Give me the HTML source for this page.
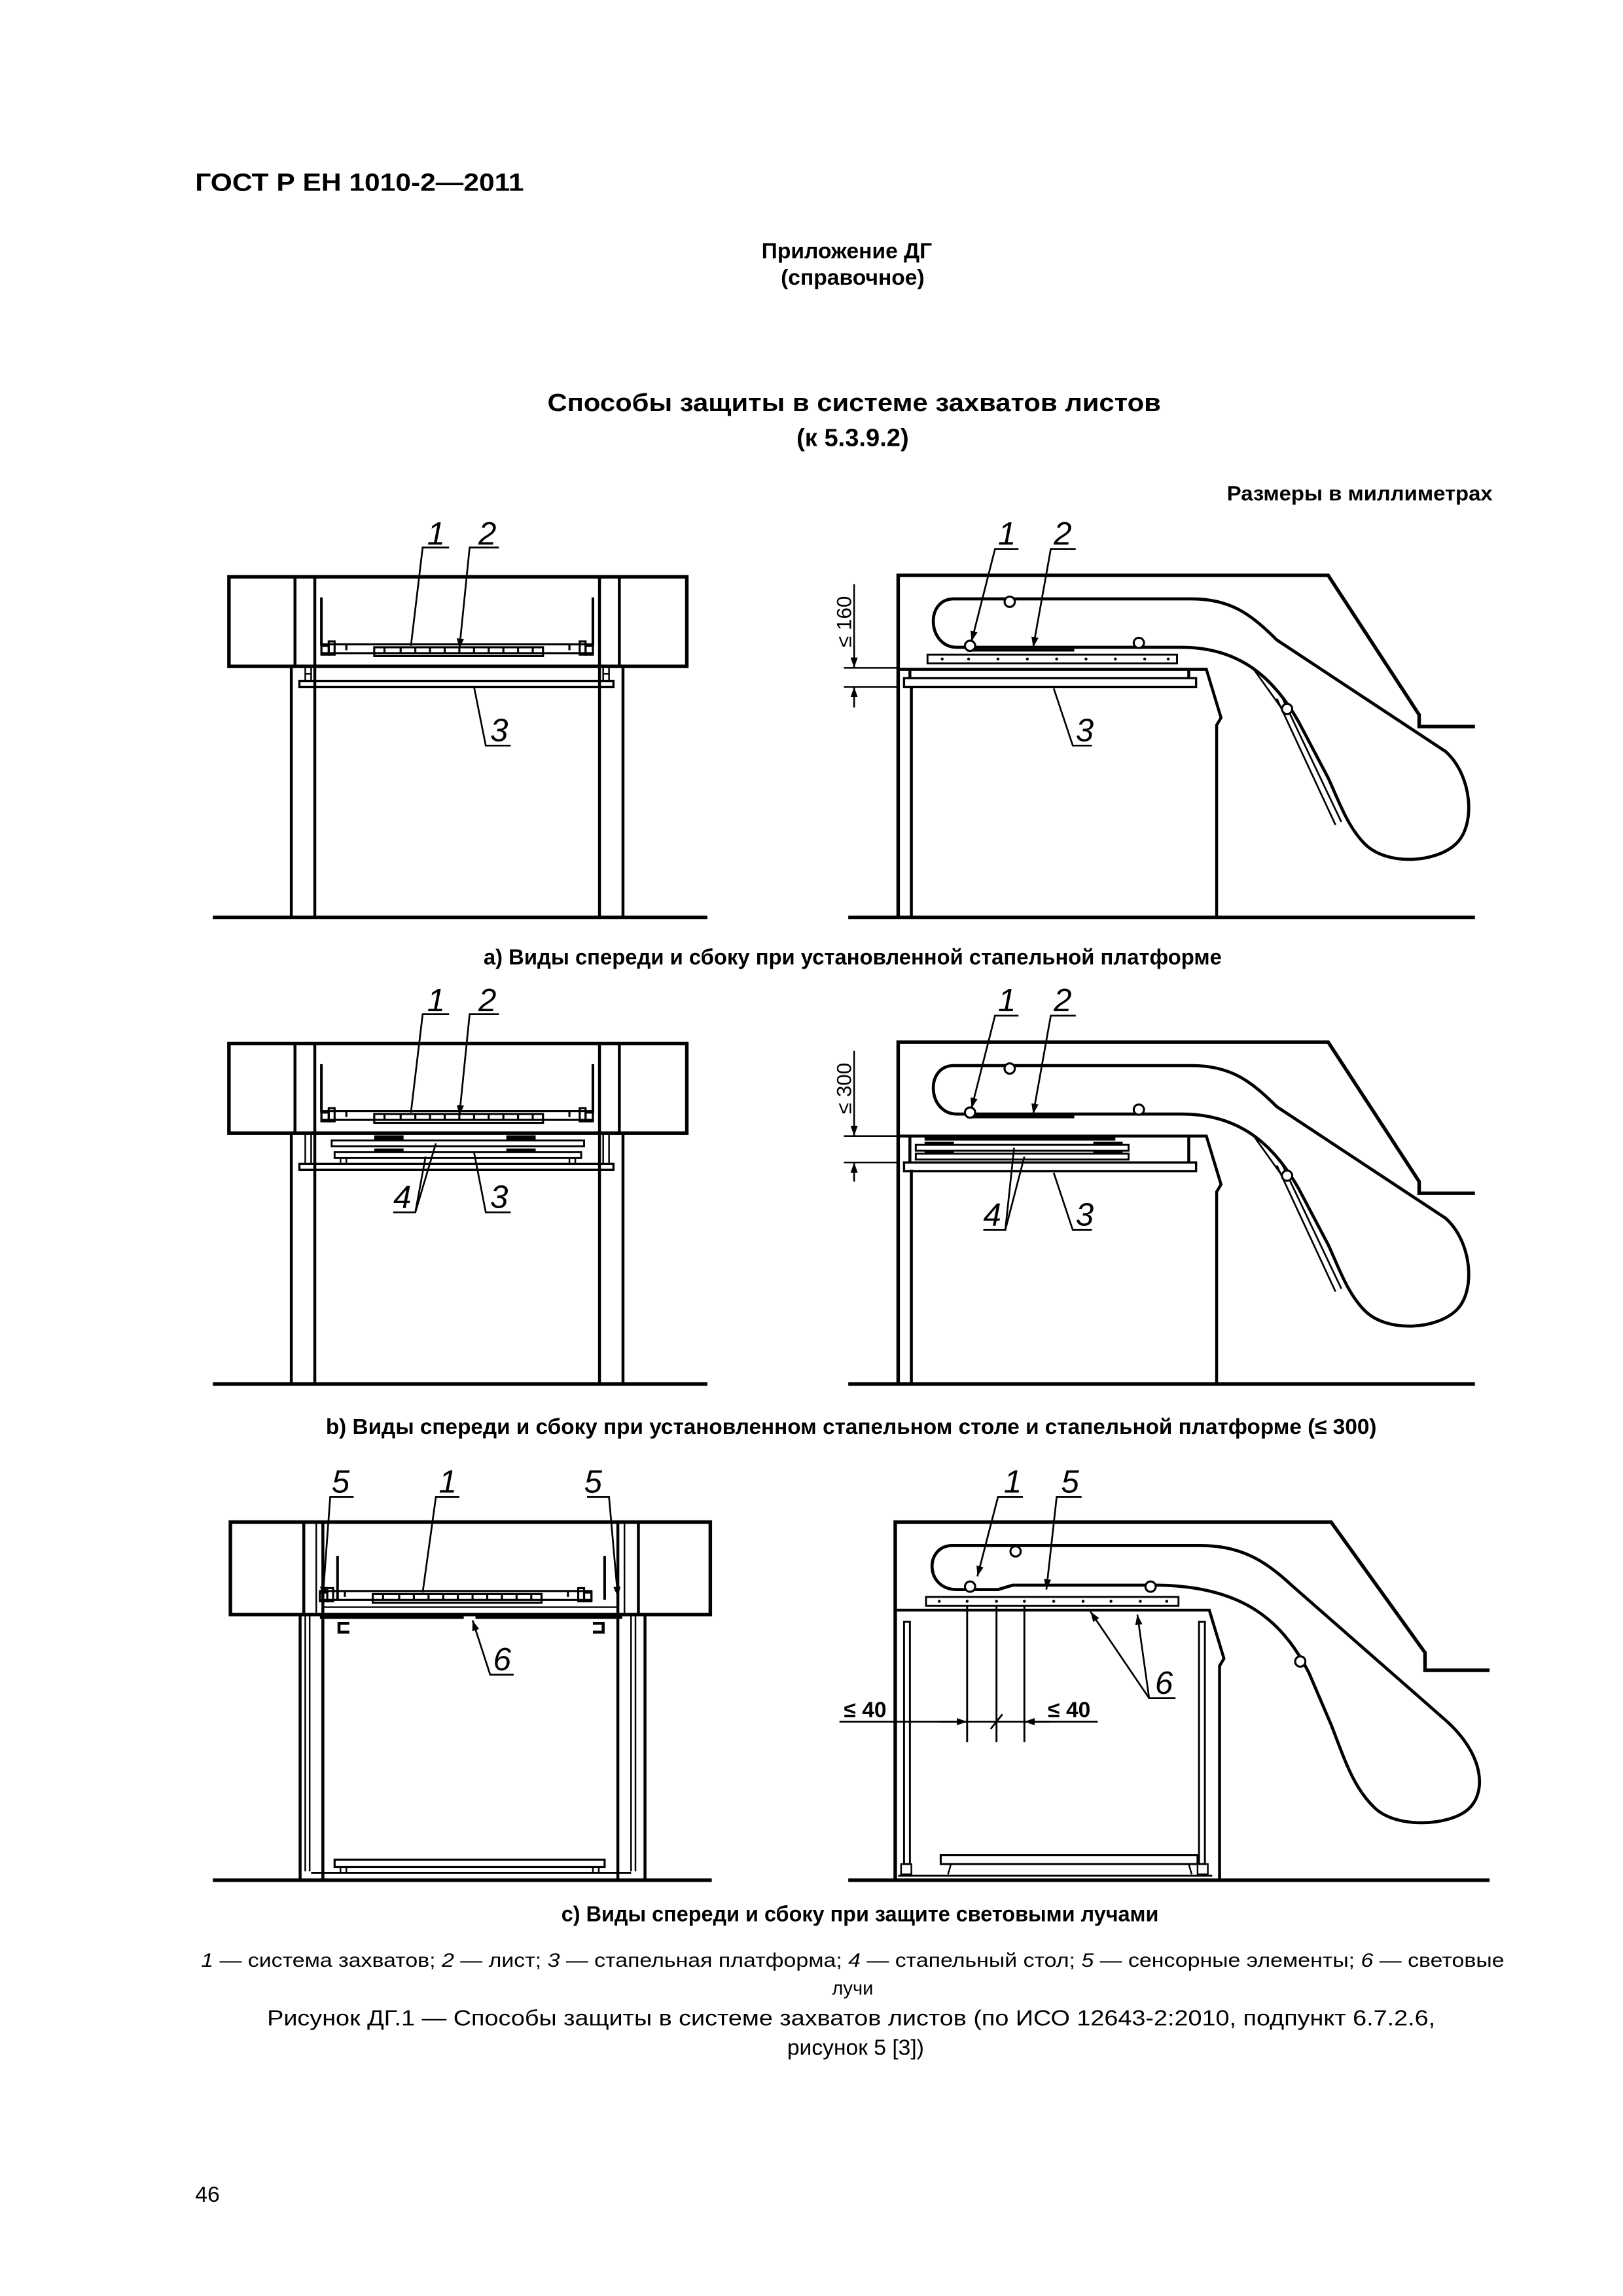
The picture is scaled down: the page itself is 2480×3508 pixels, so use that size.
<!DOCTYPE html>
<html><head><meta charset="utf-8"><style>
html,body{margin:0;padding:0;background:#fff}
svg{display:block}
text{font-family:"Liberation Sans",Arial,sans-serif;fill:#000}
</style></head><body>
<svg xmlns="http://www.w3.org/2000/svg" width="2480" height="3508" viewBox="0 0 1105.9 1564.3">
<defs>
<marker id="ar" viewBox="0 0 10 10" refX="10" refY="5" markerWidth="7" markerHeight="7" markerUnits="userSpaceOnUse" orient="auto"><path d="M0,1.5 L10,5 L0,8.5 Z" fill="#000"/></marker>

<g id="grip" fill="none" stroke="#000" stroke-width="1.4">
<rect x="219" y="439" width="185" height="6"/>
<rect x="255" y="441" width="115" height="6"/>
<rect x="219" y="440" width="5" height="6"/><rect x="399" y="440" width="5" height="6"/>
<rect x="224" y="437" width="4" height="9"/><rect x="395" y="437" width="4" height="9"/>
<path d="M236 439v4M262 441v4M273 441v4M283 441v4M293 441v4M303 441v4M313 441v4M323 441v4M333 441v4M343 441v4M353 441v4M363 441v4M388 439v4"/>
</g>

<g id="side" fill="none" stroke="#000">
<path d="M612 625 V392 H905 L967 487 V495 H1005" stroke-width="2.4"/>
<path d="M650 408 H812 C838 408 852 418 870 436 L985 512 C1003 528 1006 562 992 575 C978 588 945 590 930 575 C918 563 912 545 905 530 L885 492 C868 462 845 441 805 441 H652 C632 441 630 408 650 408 Z" stroke-width="2.1"/>
</g>
</defs>

<text x="133" y="130" font-size="17" font-weight="bold" textLength="224" lengthAdjust="spacingAndGlyphs">ГОСТ Р ЕН 1010-2—2011</text>
<text x="577" y="176" font-size="15" font-weight="bold" text-anchor="middle">Приложение ДГ</text>
<text x="581" y="194" font-size="15" font-weight="bold" text-anchor="middle">(справочное)</text>
<text x="582" y="280" font-size="17" font-weight="bold" text-anchor="middle" textLength="418" lengthAdjust="spacingAndGlyphs">Способы защиты в системе захватов листов</text>
<text x="581" y="304" font-size="17" font-weight="bold" text-anchor="middle">(к 5.3.9.2)</text>
<text x="1017" y="341" font-size="14" font-weight="bold" text-anchor="end" textLength="181" lengthAdjust="spacingAndGlyphs">Размеры в миллиметрах</text>

<!-- ROW A LEFT -->
<g fill="none" stroke="#000">
<rect x="156" y="393" width="312" height="61" stroke-width="2.4"/>
<path d="M201 393V454M214.5 393V625M408.5 393V625M422 393V454M198.5 454V625M424.5 454V625" stroke-width="2"/>
<path d="M145 625H482" stroke-width="2.4"/>
<path d="M219 407V440M404 407V440" stroke-width="1.8"/>
<rect x="204" y="464" width="214" height="4" stroke-width="1.5"/>
<path d="M208 454V464M212 454V464M411 454V464M415 454V464M208 459H212M411 459H415" stroke-width="1.1"/>
</g>
<use href="#grip"/>
<g fill="none" stroke="#000" stroke-width="1.2">
<path d="M306 373H288L280 440"/>
<path d="M340 373H320L313 442" marker-end="url(#ar)"/>
<path d="M348 508H331L323 468"/>
</g>
<g font-size="22" font-style="italic">
<text x="291" y="371">1</text><text x="326" y="371">2</text><text x="334" y="505">3</text>
</g>

<!-- ROW A RIGHT -->
<use href="#side"/>
<g fill="none" stroke="#000">
<path d="M578 625H1005" stroke-width="2.4"/>
<path d="M621 468V625" stroke-width="2"/>
<path d="M612 456H822L832 489L829 494V625" stroke-width="2"/>
<rect x="616" y="462" width="199" height="6" stroke-width="1.5"/>
<path d="M620 456V462M810 456V462" stroke-width="2"/>
<rect x="632" y="446" width="170" height="6" stroke-width="1.3"/>
<path d="M659 443H732" stroke-width="1.8"/>
<path d="M855 457L875 485M870 476L910 562M874 476L914 560" stroke-width="1.2"/>
<circle cx="661" cy="440" r="3.5" stroke-width="1.4" fill="#fff"/>
<circle cx="776" cy="438" r="3.5" stroke-width="1.4" fill="#fff"/>
<circle cx="688" cy="410" r="3.5" stroke-width="1.4" fill="#fff"/>
<circle cx="877" cy="483" r="3.5" stroke-width="1.4" fill="#fff"/>
<path d="M582 398V455M582 468V482M575 455H612M575 468H612" stroke-width="1.1"/>
</g>
<path d="M582 440V455" stroke="#000" stroke-width="1.1" marker-end="url(#ar)"/>
<path d="M582 482V468" stroke="#000" stroke-width="1.1" marker-end="url(#ar)"/>
<g fill="#000"><circle cx="642" cy="449" r="1"/><circle cx="660" cy="449" r="1"/><circle cx="680" cy="449" r="1"/><circle cx="700" cy="449" r="1"/><circle cx="720" cy="449" r="1"/><circle cx="740" cy="449" r="1"/><circle cx="760" cy="449" r="1"/><circle cx="780" cy="449" r="1"/><circle cx="796" cy="449" r="1"/></g>
<text transform="translate(580,441) rotate(-90)" font-size="14">≤ 160</text>
<g fill="none" stroke="#000" stroke-width="1.2">
<path d="M694 374H678L662 437" marker-end="url(#ar)"/>
<path d="M733 374H716L704 441" marker-end="url(#ar)"/>
<path d="M744 508H731L718 469"/>
</g>
<g font-size="22" font-style="italic">
<text x="680" y="371">1</text><text x="718" y="371">2</text><text x="733" y="505">3</text>
</g>

<text x="581" y="657" font-size="15" font-weight="bold" text-anchor="middle" textLength="503" lengthAdjust="spacingAndGlyphs">а) Виды спереди и сбоку при установленной стапельной платформе</text>

<!-- ROW B LEFT -->
<g transform="translate(0,318)">
<g fill="none" stroke="#000">
<rect x="156" y="393" width="312" height="61" stroke-width="2.4"/>
<path d="M201 393V454M214.5 393V625M408.5 393V625M422 393V454M198.5 454V625M424.5 454V625" stroke-width="2"/>
<path d="M145 625H482" stroke-width="2.4"/>
<path d="M219 407V440M404 407V440" stroke-width="1.8"/>
<rect x="204" y="475" width="214" height="4" stroke-width="1.5"/>
<path d="M208 454V475M212 454V475M411 454V475M415 454V475" stroke-width="1.1"/>
<rect x="226" y="459" width="172" height="4" stroke-width="1.3"/>
<rect x="228" y="467" width="168" height="4" stroke-width="1.3"/>
<path d="M232 471V475M236 471V475M388 471V475M392 471V475" stroke-width="1.1"/>
</g>
<path d="M255 457H275M345 457H365M255 466H275M345 466H365" stroke="#000" stroke-width="3"/>
<use href="#grip"/>
<g fill="none" stroke="#000" stroke-width="1.2">
<path d="M306 373H288L280 440"/>
<path d="M340 373H320L313 442" marker-end="url(#ar)"/>
<path d="M268 508H283L290 470M283 508L297 461"/>
<path d="M348 508H331L323 467"/>
</g>
<g font-size="22" font-style="italic">
<text x="291" y="371">1</text><text x="326" y="371">2</text><text x="268" y="505">4</text><text x="334" y="505">3</text>
</g>
</g>

<!-- ROW B RIGHT -->
<g transform="translate(0,318)">
<use href="#side"/>
<g fill="none" stroke="#000">
<path d="M578 625H1005" stroke-width="2.4"/>
<path d="M621 479V625" stroke-width="2"/>
<path d="M612 456H822L832 489L829 494V625" stroke-width="2"/>
<rect x="616" y="474" width="199" height="6" stroke-width="1.5"/>
<path d="M620 456V474M810 456V474" stroke-width="2"/>
<rect x="624" y="462" width="145" height="4" stroke-width="1.3"/>
<rect x="624" y="468" width="145" height="4" stroke-width="1.3"/>
<path d="M659 443H732" stroke-width="1.8"/>
<path d="M855 457L875 485M870 476L910 562M874 476L914 560" stroke-width="1.2"/>
<circle cx="661" cy="440" r="3.5" stroke-width="1.4" fill="#fff"/>
<circle cx="776" cy="438" r="3.5" stroke-width="1.4" fill="#fff"/>
<circle cx="688" cy="410" r="3.5" stroke-width="1.4" fill="#fff"/>
<circle cx="877" cy="483" r="3.5" stroke-width="1.4" fill="#fff"/>
<path d="M582 398V456M582 474V487M575 456H612M575 474H612" stroke-width="1.1"/>
</g>
<path d="M630 458H760M630 461H650M745 461H765M630 467H650M745 467H765" stroke="#000" stroke-width="2.2"/>
<path d="M582 441V456" stroke="#000" stroke-width="1.1" marker-end="url(#ar)"/>
<path d="M582 487V474" stroke="#000" stroke-width="1.1" marker-end="url(#ar)"/>
<text transform="translate(580,441) rotate(-90)" font-size="14">≤ 300</text>
<g fill="none" stroke="#000" stroke-width="1.2">
<path d="M694 374H678L662 437" marker-end="url(#ar)"/>
<path d="M733 374H716L704 441" marker-end="url(#ar)"/>
<path d="M670 520H685L691 464M685 520L698 470"/>
<path d="M744 520H731L718 481"/>
</g>
<g font-size="22" font-style="italic">
<text x="680" y="371">1</text><text x="718" y="371">2</text><text x="670" y="517">4</text><text x="733" y="517">3</text>
</g>
</g>

<text x="580" y="977" font-size="15" font-weight="bold" text-anchor="middle" textLength="716" lengthAdjust="spacingAndGlyphs">b) Виды спереди и сбоку при установленном стапельном столе и стапельной платформе (≤ 300)</text>

<!-- ROW C LEFT -->
<g fill="none" stroke="#000">
<rect x="157" y="1037" width="327" height="63" stroke-width="2.4"/>
<path d="M207 1037V1100M220 1037V1281M421 1037V1281M435 1037V1100" stroke-width="2"/>
<path d="M215.5 1037V1100M425.5 1037V1100" stroke-width="1.1"/>
<path d="M204.5 1100V1281M439.5 1100V1281" stroke-width="2"/>
<path d="M208 1100V1275M211 1100V1275M430 1100V1275M433 1100V1275" stroke-width="1.1"/>
<path d="M145 1281H485" stroke-width="2.4"/>
<path d="M212 1276H430" stroke-width="1.3"/>
<path d="M230 1060V1090M412 1060V1090" stroke-width="1.8"/>
<path d="M218 1102H316M324 1102H424" stroke-width="2"/>
<path d="M238 1106H231V1112H238M404 1106H411V1112H404" stroke-width="2"/>
<rect x="228" y="1267" width="184" height="5" stroke-width="1.4"/>
<path d="M232 1272V1276M236 1272V1276M404 1272V1276M408 1272V1276" stroke-width="1.1"/>
<path d="M220 1095H421" stroke-width="1.1"/>
</g>
<g transform="translate(-1,645)">
<use href="#grip"/>
</g>
<g fill="none" stroke="#000" stroke-width="1.2">
<path d="M241 1020H225L220 1088" marker-end="url(#ar)"/>
<path d="M400 1020H415L421 1088" marker-end="url(#ar)"/>
<path d="M313 1020H297L288 1085"/>
<path d="M350 1141H334L322 1104" marker-end="url(#ar)"/>
</g>
<g font-size="22" font-style="italic">
<text x="226" y="1017">5</text><text x="299" y="1017">1</text><text x="398" y="1017">5</text><text x="336" y="1138">6</text>
</g>

<!-- ROW C RIGHT -->
<g fill="none" stroke="#000">
<path d="M610 1281V1037H907L971 1126V1138H1015" stroke-width="2.4"/>
<path d="M649 1053H818C845 1053 862 1063 880 1080L985 1172C1012 1196 1013 1222 1000 1233C987 1244 952 1246 937 1232C922 1218 916 1198 907 1175L892 1140C872 1100 842 1081 790 1080H690L680 1083H652C630 1083 630 1053 649 1053Z" stroke-width="2.1"/>
<path d="M578 1281H1015" stroke-width="2.4"/>
<path d="M610 1097H824L834 1130L831 1135V1281" stroke-width="2"/>
<rect x="616" y="1105" width="4" height="165" stroke-width="1.3"/>
<rect x="817" y="1105" width="4" height="165" stroke-width="1.3"/>
<rect x="614" y="1270" width="7" height="7" stroke-width="1.1"/>
<rect x="816" y="1270" width="7" height="7" stroke-width="1.1"/>
<path d="M612 1278H826" stroke-width="1.3"/>
<rect x="641" y="1264" width="175" height="6" stroke-width="1.4"/>
<path d="M648 1270L646 1277M810 1270L812 1277" stroke-width="1.1"/>
<rect x="631" y="1088" width="172" height="6" stroke-width="1.3"/>
<path d="M659 1094V1187M679 1094V1187M698 1094V1187" stroke-width="1.3"/>
<path d="M572 1173H748" stroke-width="1.2"/>
<path d="M675 1178L683 1168" stroke-width="1.2"/>
<circle cx="661" cy="1081" r="3.5" stroke-width="1.4" fill="#fff"/>
<circle cx="784" cy="1081" r="3.5" stroke-width="1.4" fill="#fff"/>
<circle cx="692" cy="1057" r="3.5" stroke-width="1.4" fill="#fff"/>
<circle cx="886" cy="1132" r="3.5" stroke-width="1.4" fill="#fff"/>
</g>
<g fill="#000"><circle cx="640" cy="1091" r="1"/><circle cx="659" cy="1091" r="1"/><circle cx="679" cy="1091" r="1"/><circle cx="698" cy="1091" r="1"/><circle cx="718" cy="1091" r="1"/><circle cx="738" cy="1091" r="1"/><circle cx="757" cy="1091" r="1"/><circle cx="777" cy="1091" r="1"/><circle cx="795" cy="1091" r="1"/></g>
<path d="M640 1173H659" stroke="#000" stroke-width="1.2" marker-end="url(#ar)"/>
<path d="M716 1173H698" stroke="#000" stroke-width="1.2" marker-end="url(#ar)"/>
<text x="575" y="1170" font-size="15" font-weight="bold">≤ 40</text>
<text x="714" y="1170" font-size="15" font-weight="bold">≤ 40</text>
<g fill="none" stroke="#000" stroke-width="1.2">
<path d="M697 1020H680L666 1074" marker-end="url(#ar)"/>
<path d="M737 1020H720L713 1083" marker-end="url(#ar)"/>
<path d="M801 1157H783L743 1098" marker-end="url(#ar)"/>
<path d="M783 1157L775 1100" marker-end="url(#ar)"/>
</g>
<g font-size="22" font-style="italic">
<text x="684" y="1017">1</text><text x="723" y="1017">5</text><text x="787" y="1154">6</text>
</g>

<text x="586" y="1309" font-size="15" font-weight="bold" text-anchor="middle" textLength="407" lengthAdjust="spacingAndGlyphs">с) Виды спереди и сбоку при защите световыми лучами</text>

<text x="137" y="1340" font-size="13" textLength="888" lengthAdjust="spacingAndGlyphs"><tspan font-style="italic">1</tspan> — система захватов; <tspan font-style="italic">2</tspan> — лист; <tspan font-style="italic">3</tspan> — стапельная платформа; <tspan font-style="italic">4</tspan> — стапельный стол; <tspan font-style="italic">5</tspan> — сенсорные элементы; <tspan font-style="italic">6</tspan> — световые</text>
<text x="581" y="1359" font-size="13" text-anchor="middle">лучи</text>
<text x="580" y="1380" font-size="15" text-anchor="middle" textLength="796" lengthAdjust="spacingAndGlyphs">Рисунок  ДГ.1 — Способы защиты в системе захватов листов (по ИСО 12643-2:2010, подпункт 6.7.2.6,</text>
<text x="583" y="1400" font-size="15" text-anchor="middle">рисунок 5 [3])</text>
<text x="133" y="1500" font-size="15">46</text>
</svg>
</body></html>
